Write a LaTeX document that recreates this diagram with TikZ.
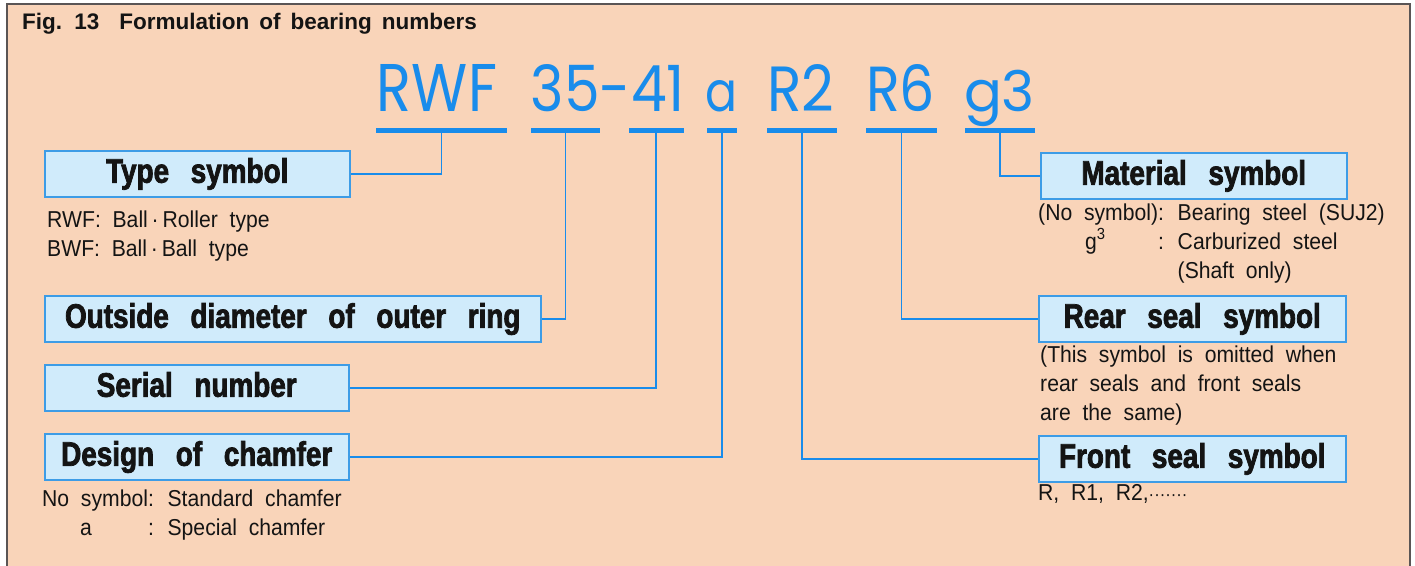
\documentclass[tikz,border=0pt]{standalone}
\usepackage{fontspec}
\usepackage{calc}
\setmainfont{Liberation Sans}
\newfontfamily\titlefont[WordSpace=1.6]{Liberation Sans}
\newfontfamily\headfont[FakeStretch=0.82,WordSpace=2.8,FakeBold=2.2]{Liberation Sans}
\newfontfamily\bodyfont[FakeStretch=0.92,WordSpace=2.0]{Liberation Sans}
\newfontfamily\bigfont{Poppins}
\definecolor{peach}{RGB}{249,212,185}
\definecolor{bigblue}{RGB}{25,140,235}
\definecolor{boxfill}{RGB}{208,235,251}
\definecolor{boxline}{RGB}{61,156,230}
\definecolor{framegray}{RGB}{90,85,85}
\definecolor{ink}{RGB}{20,20,20}
\begin{document}
\begin{tikzpicture}[x=1pt,y=-1pt,
  box/.style={draw=boxline, fill=boxfill, line width=1.5pt, inner sep=0pt, anchor=north west,
    text=ink, text height=25pt, text depth=7pt,
    font=\headfont\bfseries\fontsize{34}{36}\selectfont},
  bigword/.style={font=\bigfont, text=bigblue, anchor=base, inner sep=0pt},
  bar/.style={fill=bigblue, draw=none, minimum height=5pt, inner sep=0pt},
  conn/.style={draw=bigblue, line width=1.8pt},
  body/.style={anchor=base west, inner sep=0pt, align=left, text=ink,
    font=\bodyfont\fontsize{23}{29}\selectfont}]
\useasboundingbox (0,0) rectangle (1415,565);
\fill[white] (0,0) rectangle (1415,565);
\filldraw[fill=peach, draw=framegray, line width=1.5pt] (7,4) rectangle (1410,580);

% title
\node[anchor=base west, inner sep=0pt, text=ink,
  font=\titlefont\bfseries\fontsize{22.5}{24}\selectfont] (title) at (22,29)
  {Fig. 13\ \ Formulation of bearing numbers};

% big bearing number
\node[bigword] (wRWF) at (437,111) {\resizebox{120pt}{47pt}{RWF}};
\node[bigword] (w3541) at (608,111) {\resizebox{154pt}{47pt}{35-41}};
\node[bigword] (wa) at (721,111) {\resizebox{32pt}{31pt}{a}};
\node[bigword] (wR2) at (800.5,111) {\resizebox{67pt}{47pt}{R2}};
\node[bigword] (wR6) at (900.5,111) {\resizebox{69pt}{47pt}{R6}};
\node[bigword] (wg3) at (999.5,111) {\resizebox{71pt}{!}{g3}};

% underline bars
\node[bar, minimum width=131pt] (bRWF) at (441.5,130.5) {};
\node[bar, minimum width=69pt] (b35) at (565.5,130.5) {};
\node[bar, minimum width=55pt] (b41) at (656,130.5) {};
\node[bar, minimum width=30pt] (ba) at (722,130.5) {};
\node[bar, minimum width=70pt] (bR2) at (802,130.5) {};
\node[bar, minimum width=71pt] (bR6) at (901.5,130.5) {};
\node[bar, minimum width=70pt] (bg3) at (1000,130.5) {};

% label boxes
\node[box, minimum width=305pt, minimum height=46pt] (type) at (44,150) {Type symbol};
\node[box, minimum width=496pt, minimum height=46pt] (outside) at (44,295) {Outside diameter of outer ring};
\node[box, minimum width=304pt, minimum height=46pt] (serial) at (44,364) {Serial number};
\node[box, minimum width=304pt, minimum height=46pt] (design) at (44,433) {Design of chamfer};
\node[box, minimum width=306pt, minimum height=46pt] (material) at (1040,152) {Material symbol};
\node[box, minimum width=307pt, minimum height=46pt] (rear) at (1038,295) {Rear seal symbol};
\node[box, minimum width=307pt, minimum height=46pt] (front) at (1038,435) {Front seal symbol};

% connectors
\draw[conn] (bRWF.south) |- (type.east);
\draw[conn] (b35.south) |- (outside.east);
\draw[conn] (b41.south) |- (serial.east);
\draw[conn] (ba.south) |- (design.east);
\draw[conn] (bR2.south) |- (front.west);
\draw[conn] (bR6.south) |- (rear.west);
\draw[conn] (bg3.south) |- (material.west);

% explanations (anchor = baseline of the last line)
\node[body] (ttype) at (47,256) {RWF:\ Ball\,·\,Roller type\\BWF:\ Ball\,·\,Ball type};
\node[body] (tdesign) at (42,535) {No symbol: Standard chamfer\\
  \makebox[\widthof{No symbol}][l]{\hspace{38pt}a}: Special chamfer};
\node[body] (tmaterial) at (1038,278) {(No symbol): Bearing steel (SUJ2)\\
  \makebox[\widthof{(No symbol)}][l]{\hspace{47pt}g\textsuperscript{3}}: Carburized steel\\
  \hphantom{(No symbol): }(Shaft only)};
\node[body] (trear) at (1040,420) {(This symbol is omitted when\\rear seals and front seals\\are the same)};
\node[body] (tfront) at (1038,500) {R, R1, R2,{\fontsize{18}{18}\selectfont ·······}};
\end{tikzpicture}
\end{document}
